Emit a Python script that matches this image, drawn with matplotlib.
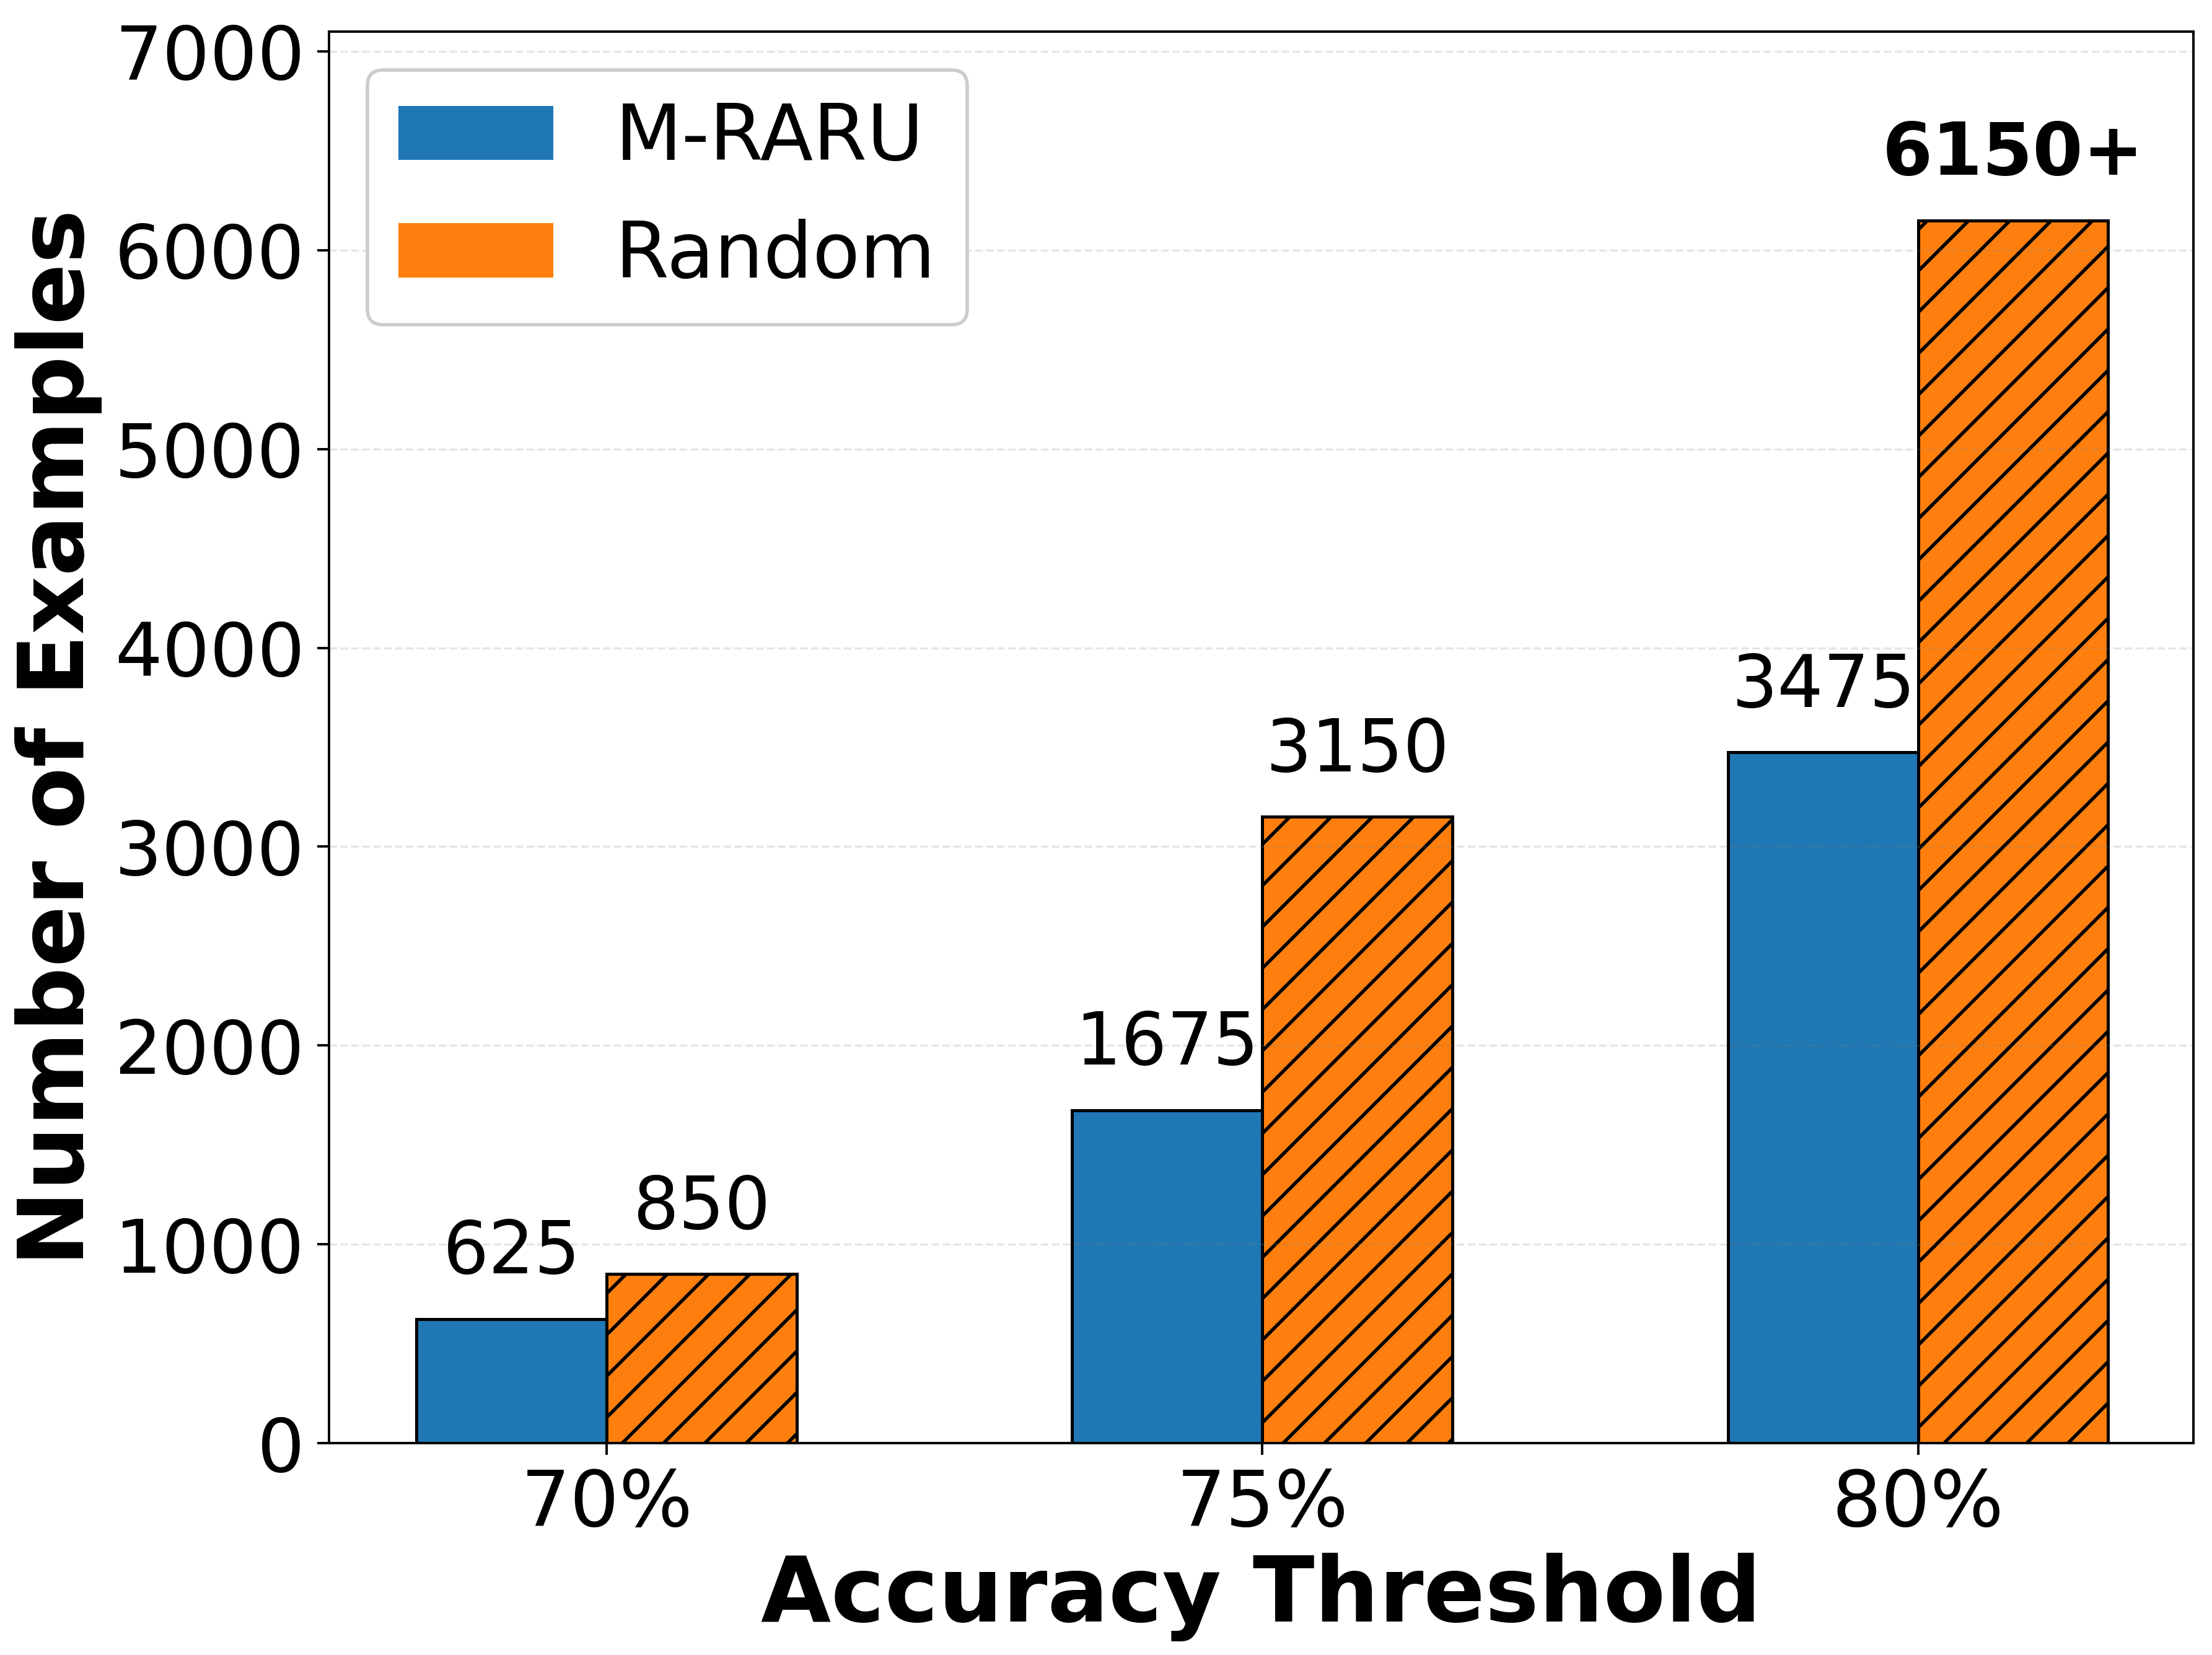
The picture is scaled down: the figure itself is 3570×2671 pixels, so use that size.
import matplotlib
matplotlib.use('Agg')
import matplotlib.pyplot as plt
from matplotlib.patches import Patch
import numpy as np

# data
thresholds = ['70%', '75%', '80%']
mraru = [625, 1675, 3475]
random_sel = [850, 3150, 6150]
random_labels = ['850', '3150', '6150+']

blue = '#1f77b4'
orange = '#ff7f0e'

# rendered at 400 dpi so the hatch spacing matches; sizes in pt scaled to suit
fig = plt.figure(figsize=(8.925, 6.6775), dpi=400)
ax = fig.add_axes([0.1486, 0.128, 0.843, 0.853])

x = np.arange(len(thresholds))
w = 0.29

ax.bar(x - w/2, mraru, w, color=blue, edgecolor='black', linewidth=0.9)
ax.bar(x + w/2, random_sel, w, color=orange, edgecolor='black', linewidth=0.9, hatch='//')

off = 150
for i in range(len(x)):
    ax.text(x[i] - w/2, mraru[i] + off, str(mraru[i]), ha='center', va='bottom', fontsize=21)
    bold = 'bold' if random_labels[i].endswith('+') else 'normal'
    ax.text(x[i] + w/2, random_sel[i] + off, random_labels[i], ha='center', va='bottom',
            fontsize=21, fontweight=bold)

ax.set_ylim(0, 7100)
ax.set_xlim(-0.424, 2.42)
ax.set_xticks(x)
ax.set_xticklabels(thresholds)
ax.tick_params(axis='x', labelsize=22.5, width=0.7, length=3.5)
ax.tick_params(axis='y', labelsize=21.7, width=0.7, length=3.5)
for s in ax.spines.values():
    s.set_linewidth(0.7)
ax.set_yticks(range(0, 7001, 1000))
ax.yaxis.grid(True, linestyle='--', color='gray', alpha=0.2, linewidth=0.6)

ax.set_xlabel('Accuracy Threshold', fontsize=26.3, fontweight='bold', labelpad=3)
ax.set_ylabel('Number of Examples', fontsize=26.3, fontweight='bold', labelpad=3.5)

handles = [Patch(facecolor=blue, label='M-RARU'), Patch(facecolor=orange, label='Random')]
ax.legend(handles=handles, loc='upper left', fontsize=22.5, framealpha=1,
          labelspacing=0.55, edgecolor='#cccccc')

fig.savefig('out.png', dpi=400)
